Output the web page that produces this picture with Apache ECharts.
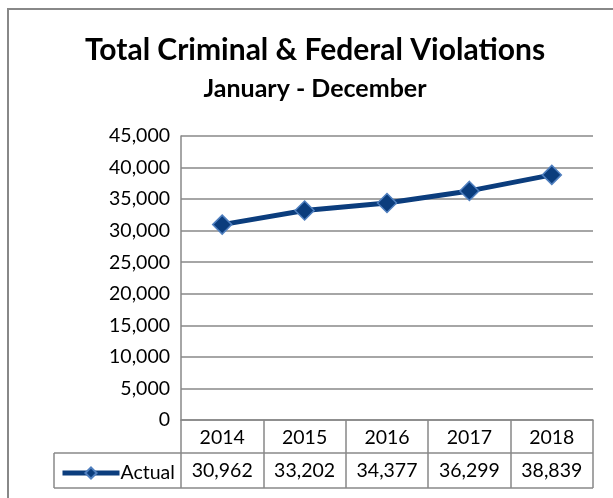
<!DOCTYPE html>
<html><head><meta charset="utf-8">
<script src="https://cdn.jsdelivr.net/npm/echarts@6/dist/echarts.min.js"></script>
<style>html,body{margin:0;padding:0;background:#fff}#c{width:613px;height:498px}</style>
</head><body><div id="c"></div>
<script>
const titleText = 'Total Criminal & Federal Violations';
const subtitleText = 'January - December';
const years = ['2014', '2015', '2016', '2017', '2018'];
const actual = [30962, 33202, 34377, 36299, 38839];
const seriesName = 'Actual';
const yMin = 0, yMax = 45000, yStep = 5000;

const FONT = 'Lato';
const FS = 19.5;
const fmt = v => v.toLocaleString('en-US');
const GRAY = '#888888';
const LINE = '#0b3d7d';
const gl = 181, gr = 593, gt = 136, gb = 420;
const row1 = 453, row2 = 488, legLeft = 54;

const chart = echarts.init(document.getElementById('c'));
chart.setOption({
  animation: false,
  textStyle: { fontFamily: FONT },
  title: [
    { text: titleText, left: 315, textAlign: 'center', top: 35, padding: 0, textStyle: { fontFamily: FONT, fontWeight: 'bold', fontSize: 30, color: '#000' } },
    { text: subtitleText, left: 315, textAlign: 'center', top: 76, padding: 0, textStyle: { fontFamily: FONT, fontWeight: 'bold', fontSize: 25, color: '#000' } }
  ],
  grid: { left: gl, top: gt, width: gr - gl, height: gb - gt, containLabel: false },
  legend: {
    left: 60, top: 463, padding: 0, itemWidth: 57, itemHeight: 14, itemGap: 0,
    textStyle: { fontFamily: FONT, fontSize: FS, color: '#000', padding: [0,0,0,-4] },
    lineStyle: { width: 5, color: LINE },
    data: [seriesName]
  },
  xAxis: [
    {
      type: 'category', data: years, boundaryGap: true,
      axisLine: { show: true, lineStyle: { color: GRAY, width: 1.5 } },
      axisTick: { show: true, alignWithLabel: false, length: row2 - gb, lineStyle: { color: GRAY, width: 1.5 } },
      axisLabel: { margin: 8, fontSize: FS, color: '#000', fontFamily: FONT },
      splitLine: { show: false }
    },
    {
      type: 'category', data: actual.map(fmt), position: 'bottom', offset: row1 - gb,
      axisLine: { show: false }, axisTick: { show: false },
      axisLabel: { margin: 8, fontSize: FS, color: '#000', fontFamily: FONT }
    }
  ],
  yAxis: {
    type: 'value', min: yMin, max: yMax, interval: yStep,
    axisLine: { show: true, lineStyle: { color: GRAY, width: 1.5 } },
    axisTick: { show: false },
    axisLabel: { fontSize: FS, color: '#000', margin: 11, formatter: v => fmt(v), fontFamily: FONT },
    splitLine: { lineStyle: { color: GRAY, width: 1.5 } }
  },
  series: [{
    name: seriesName, type: 'line', data: actual, xAxisIndex: 0,
    symbol: 'diamond', symbolSize: 19,
    lineStyle: { color: LINE, width: 5 },
    itemStyle: { color: LINE, borderColor: '#4f7fbf', borderWidth: 1.5 }
  }],
  graphic: [
    { type: 'rect', shape: { x: 8, y: 9, width: 800, height: 800 }, style: { fill: 'none', stroke: GRAY, lineWidth: 2 }, silent: true },
    { type: 'line', shape: { x1: legLeft, y1: row1, x2: gr, y2: row1 }, style: { stroke: GRAY, lineWidth: 1.5 } },
    { type: 'line', shape: { x1: legLeft, y1: row2, x2: gr, y2: row2 }, style: { stroke: GRAY, lineWidth: 1.5 } },
    { type: 'line', shape: { x1: legLeft, y1: row1, x2: legLeft, y2: row2 }, style: { stroke: GRAY, lineWidth: 1.5 } }
  ]
});
</script></body></html>
